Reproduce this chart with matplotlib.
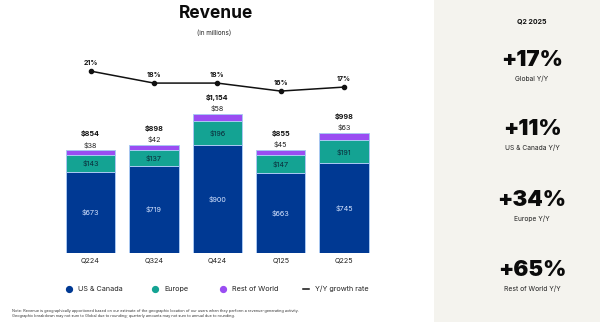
import matplotlib
matplotlib.use("Agg")
import matplotlib.pyplot as plt
from matplotlib.patches import Rectangle
from matplotlib.lines import Line2D

plt.rcParams['font.family'] = ['Inter', 'DejaVu Sans']

quarters = ["Q224", "Q324", "Q424", "Q125", "Q225"]
us_canada = [673, 719, 900, 663, 745]
europe = [143, 137, 196, 147, 191]
rest_of_world = [38, 42, 58, 45, 63]
totals = [854, 898, 1154, 855, 998]
yoy_growth = [21, 18, 18, 16, 17]

kpi_period = "Q2 2025"
kpi_values = ["+17%", "+11%", "+34%", "+65%"]
kpi_labels = ["Global Y/Y", "US & Canada Y/Y", "Europe Y/Y", "Rest of World Y/Y"]

C_US = "#003993"
C_EU = "#14A393"
C_ROW = "#9A4DF2"
EDGE = "#A9C8F2"

W, H = 600, 322
fig = plt.figure(figsize=(W / 100, H / 100), dpi=100)
fig.patch.set_facecolor("white")


def fx(px):
    return px / W


def fy(py):
    return 1 - py / H


# right-hand KPI panel
fig.patches.append(Rectangle((fx(434), 0), 1 - fx(434), 1, transform=fig.transFigure,
                             facecolor="#F4F3EE", edgecolor="none", zorder=0))
fig.text(fx(532), fy(21), kpi_period, ha="center", va="center", fontsize=5.0,
         fontweight="bold", color="#111111")
kpi_y = [60, 129, 200, 270]
for v, lab, y in zip(kpi_values, kpi_labels, kpi_y):
    fig.text(fx(532), fy(y), v, ha="center", va="center", fontsize=16,
             fontweight="black", color="#0b0b0b")
    fig.text(fx(532), fy(y + 19), lab, ha="center", va="center", fontsize=4.8,
             color="#222222")

# title
fig.text(fx(216), fy(14), "Revenue", ha="center", va="center", fontsize=12.5,
         fontweight="bold", color="#0b0b0b")
fig.text(fx(214), fy(33), "(in millions)", ha="center", va="center", fontsize=4.6,
         color="#222222")

# main bar axes
spacing = 63.4
left_px = 90.5 - 0.5 * spacing
bottom_px = 253
top_px = 36.3
ax = fig.add_axes([fx(left_px), fy(bottom_px), 5 * spacing / W, (bottom_px - top_px) / H])
ax.set_xlim(-0.5, 4.5)
ax.set_ylim(0, 1800)
ax.axis("off")

x = list(range(len(quarters)))
bw = 0.78
b1 = [u + e for u, e in zip(us_canada, europe)]
ax.bar(x, us_canada, bw, color=C_US, edgecolor=EDGE, linewidth=0.7)
ax.bar(x, europe, bw, bottom=us_canada, color=C_EU, edgecolor=EDGE, linewidth=0.7)
ax.bar(x, rest_of_world, bw, bottom=b1, color=C_ROW, edgecolor=EDGE, linewidth=0.7)

for i in x:
    ax.text(i, us_canada[i] / 2, f"${us_canada[i]}", ha="center", va="center",
            fontsize=5.2, color="#D6E4FF")
    ax.text(i, us_canada[i] + europe[i] / 2, f"${europe[i]}", ha="center", va="center",
            fontsize=5.2, color="#0B2A3A")
    top = b1[i] + rest_of_world[i]
    ax.text(i, top + 45, f"${rest_of_world[i]}", ha="center", va="center",
            fontsize=5.2, color="#222222")
    ax.text(i, top + 135, f"${totals[i]:,}", ha="center", va="center",
            fontsize=5.2, fontweight="bold", color="#111111")
    ax.text(i, -35, quarters[i], ha="center", va="top", fontsize=5.2, color="#222222")

# growth line on its own scale
ax2 = ax.twinx()
ax2.set_ylim(-24.5, 29.7)
ax2.axis("off")
ax2.plot(x, yoy_growth, color="#111111", linewidth=1.1, marker="o", markersize=3)
for i in x:
    ax2.text(i, yoy_growth[i] + 2.0, f"{yoy_growth[i]}%", ha="center", va="center",
             fontsize=5.0, fontweight="bold", color="#111111")

# legend
legend_items = [(69, "US & Canada", C_US, "dot"), (155, "Europe", C_EU, "dot"),
                (223, "Rest of World", C_ROW, "dot"), (306, "Y/Y growth rate", "#111111", "line")]
for px, lab, col, kind in legend_items:
    if kind == "dot":
        fig.lines.append(Line2D([fx(px)], [fy(289)], transform=fig.transFigure,
                                marker="o", markersize=4.2, color=col, linestyle="none"))
    else:
        fig.lines.append(Line2D([fx(px - 3), fx(px + 3)], [fy(289), fy(289)],
                                transform=fig.transFigure, color=col, linewidth=1.1))
    fig.text(fx(px + 9), fy(289), lab, ha="left", va="center", fontsize=5.2, color="#222222")

fig.text(fx(12), fy(311),
         "Note: Revenue is geographically apportioned based on our estimate of the geographic location of our users when they perform a revenue-generating activity.",
         ha="left", va="center", fontsize=2.8, color="#333333")
fig.text(fx(12), fy(316),
         "Geographic breakdown may not sum to Global due to rounding; quarterly amounts may not sum to annual due to rounding.",
         ha="left", va="center", fontsize=2.8, color="#333333")

fig.savefig("out.png", dpi=100, facecolor=fig.get_facecolor())
